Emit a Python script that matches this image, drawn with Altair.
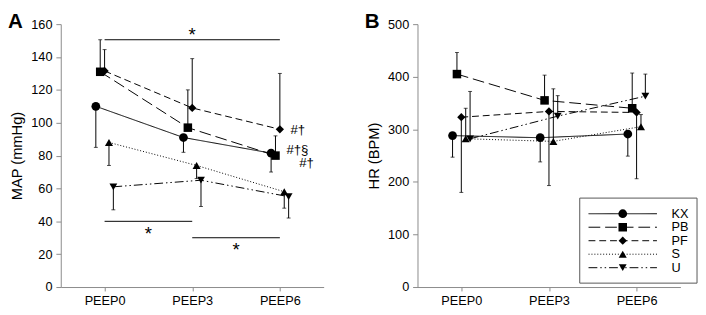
import altair as alt
import pandas as pd

categories = ["PEEP0", "PEEP3", "PEEP6"]
series = ["KX", "PB", "PF", "S", "U"]

# Panel A: MAP (mmHg) means and error-bar end points
map_kx = [110, 91, 81.5]
map_pb = [131, 97, 80]
map_pf = [131.5, 109, 96]
map_s = [88, 74, 58]
map_u = [61, 65, 55]
map_kx_err = [85, 82, 70]
map_pb_err = [150.5, 120, 92]
map_pf_err = [144.5, 139, 130]
map_s_err = [74, 66, 48]
map_u_err = [47, 49, 42]

# Panel B: HR (BPM) means and error-bar end points
hr_kx = [288, 284, 291]
hr_pb = [405, 355, 340]
hr_pf = [323, 334, 332]
hr_s = [282, 277, 305]
hr_u = [282, 325, 363]
hr_kx_err = [247, 238, 249]
hr_pb_err = [446, 403, 407]
hr_pf_err = [180, 193, 206]
hr_s_err = [340, 377, 328]
hr_u_err = [372, 364, 405]

# significance bars (panel A)
sig_x0 = [0, 0, 1]
sig_x1 = [2, 1, 2]
sig_y = [150.5, 40, 30]
star_x = [1, 0.5, 1.5]
star_y = [149.5, 28.5, 19]
note_text = ["#†", "#†§", "#†"]
note_x = [2.12, 2.075, 2.22]
note_y = [95.8, 83.6, 75.2]

DODGE = {"KX": -0.1, "PB": -0.05, "PF": 0.0, "S": 0.05, "U": 0.1}
DASHES = [[1, 0], [12, 5], [7, 4], [1, 2], [9, 3, 1.5, 3, 1.5, 3]]
SHAPES = ["circle", "square", "diamond", "triangle-up", "triangle-down"]
SIZES = [80, 64, 100, 80, 80]
AX = "#8a8a8a"


def long_df(means, ends):
    rows = []
    for s in series:
        for i, c in enumerate(categories):
            rows.append(dict(series=s, cat=c, xpos=i + DODGE[s],
                             value=means[s][i], end=ends[s][i]))
    return pd.DataFrame(rows)


label_expr = "[" + ",".join("'%s'" % c for c in categories) + "][round(datum.value)]"

dash_enc = alt.StrokeDash("series:N", scale=alt.Scale(domain=series, range=DASHES), legend=None)
shape_enc = alt.Shape("series:N", scale=alt.Scale(domain=series, range=SHAPES), legend=None)
size_enc = alt.Size("series:N", scale=alt.Scale(domain=series, range=SIZES), legend=None)


def xenc(field="xpos"):
    return alt.X(field + ":Q",
                 scale=alt.Scale(domain=[-0.5, 2.5], nice=False, zero=False),
                 axis=alt.Axis(values=[0, 1, 2], labelExpr=label_expr, title=None,
                               grid=False, tickSize=4, domainColor=AX, tickColor=AX,
                               labelFontSize=13, labelColor="black", labelPadding=4))


def yenc(field, dom, step, title):
    return alt.Y(field + ":Q",
                 scale=alt.Scale(domain=dom, nice=False, zero=True),
                 axis=alt.Axis(values=list(range(dom[0], dom[1] + 1, step)), title=title,
                               grid=False, tickSize=5, domainColor=AX, tickColor=AX,
                               labelFontSize=13, labelColor="black", labelPadding=4,
                               titleFontSize=15, titleFontWeight="normal",
                               titleColor="black", titlePadding=6))


def panel(df, dom, step, title, letter):
    base = alt.Chart(df)
    lines = base.mark_line(color="black", strokeWidth=1).encode(
        x=xenc(), y=yenc("value", dom, step, title), strokeDash=dash_enc, detail="series:N")
    rules = base.mark_rule(color="black", strokeWidth=1).encode(
        x=xenc(), y=yenc("value", dom, step, title), y2="end:Q")
    caps = base.mark_tick(orient="horizontal", size=4, thickness=1, color="black").encode(
        x=xenc(), y=yenc("end", dom, step, title))
    pts = base.mark_point(filled=True, opacity=1, color="black").encode(
        x=xenc(), y=yenc("value", dom, step, title), shape=shape_enc, size=size_enc)
    let = alt.Chart(pd.DataFrame({"t": [letter]})).mark_text(
        fontSize=21, fontWeight="bold", align="left", baseline="top", color="black").encode(
        text="t:N", x=alt.value(-54), y=alt.value(-13))
    return [lines, rules, caps, pts, let]


dfA = long_df({"KX": map_kx, "PB": map_pb, "PF": map_pf, "S": map_s, "U": map_u},
              {"KX": map_kx_err, "PB": map_pb_err, "PF": map_pf_err, "S": map_s_err, "U": map_u_err})
dfB = long_df({"KX": hr_kx, "PB": hr_pb, "PF": hr_pf, "S": hr_s, "U": hr_u},
              {"KX": hr_kx_err, "PB": hr_pb_err, "PF": hr_pf_err, "S": hr_s_err, "U": hr_u_err})

layersA = panel(dfA, [0, 160], 20, "MAP (mmHg)", "A")
sig = pd.DataFrame({"x0": sig_x0, "x1": sig_x1, "y": sig_y, "sx": star_x, "sy": star_y})
layersA.append(alt.Chart(sig).mark_rule(color="black", strokeWidth=1).encode(
    x=xenc("x0"), x2="x1:Q", y=yenc("y", [0, 160], 20, "MAP (mmHg)")))
layersA.append(alt.Chart(sig).mark_text(text="*", fontSize=19, baseline="alphabetic",
                                        color="black").encode(
    x=xenc("sx"), y=yenc("sy", [0, 160], 20, "MAP (mmHg)")))
notes = pd.DataFrame({"t": note_text, "nx": note_x, "ny": note_y})
layersA.append(alt.Chart(notes).mark_text(fontSize=13.5, align="left", baseline="middle",
                                          color="black").encode(
    text="t:N", x=xenc("nx"), y=yenc("ny", [0, 160], 20, "MAP (mmHg)")))

layersB = panel(dfB, [0, 500], 100, "HR (BPM)", "B")
# legend box
layersB.append(alt.Chart(pd.DataFrame({"a": [0]})).mark_rect(
    fill="white", stroke="#555", strokeWidth=1).encode(
    x=alt.value(166), x2=alt.value(286), y=alt.value(178), y2=alt.value(265)))
for i, s in enumerate(series):
    row = pd.DataFrame({"series": [s]})
    yy = 194 + 13.8 * i
    layersB.append(alt.Chart(row).mark_rule(color="black", strokeWidth=1).encode(
        x=alt.value(175), x2=alt.value(245), y=alt.value(yy), strokeDash=dash_enc))
    layersB.append(alt.Chart(row).mark_point(filled=True, opacity=1, color="black").encode(
        x=alt.value(210), y=alt.value(yy), shape=shape_enc, size=size_enc))
    layersB.append(alt.Chart(row).mark_text(fontSize=13, align="left", baseline="middle",
                                            color="black").encode(
        x=alt.value(260), y=alt.value(yy), text="series:N"))

pA = alt.layer(*layersA).properties(width=269, height=269)
pB = alt.layer(*layersB).properties(width=269, height=269)

chart = alt.hconcat(pA, pB, spacing=96, bounds="flush").properties(
    padding={"left": 0, "top": 0, "right": 0, "bottom": 0}
).configure(font="Liberation Sans").configure_view(stroke=None)

chart.save("out.html", embed_options={"renderer": "svg", "actions": False})
